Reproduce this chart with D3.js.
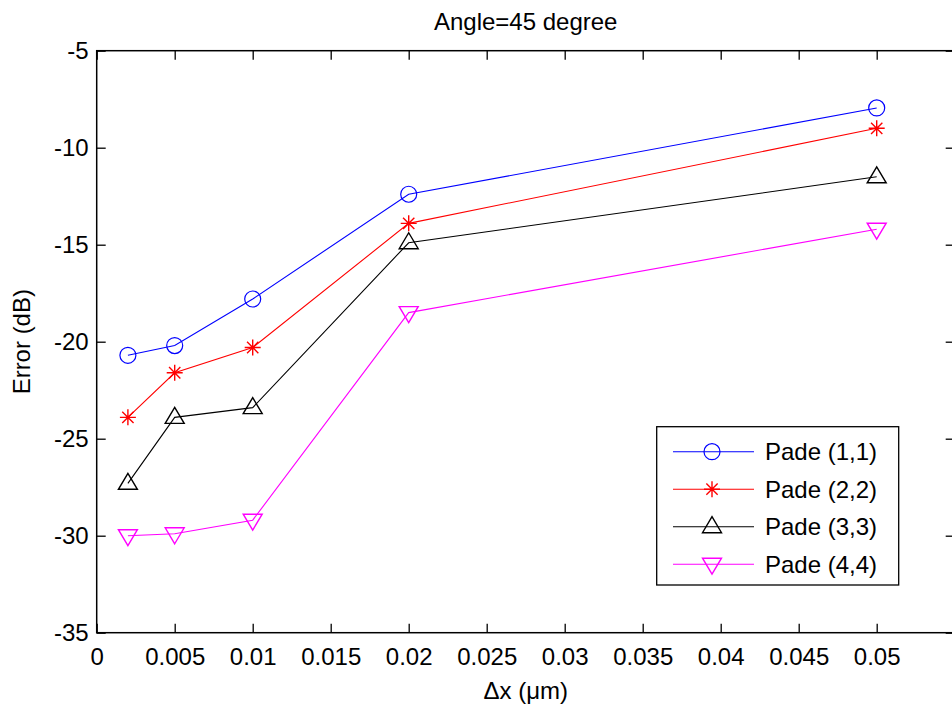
<!DOCTYPE html>
<html><head><meta charset="utf-8">
<script src="https://cdn.jsdelivr.net/npm/d3@7"></script>
<style>
body{margin:0;background:#fff;}
svg text{font-family:"Liberation Sans",Arial,sans-serif;fill:#000;}
</style></head>
<body><svg id="c" width="952" height="706"></svg>
<script>
const xValues = [0.002, 0.005, 0.01, 0.02, 0.05];
const pade11 = [-20.7, -20.2, -17.8, -12.4, -7.95];
const pade22 = [-23.9, -21.6, -20.3, -13.9, -9.0];
const pade33 = [-27.3, -23.9, -23.4, -14.9, -11.5];
const pade44 = [-30.0, -29.9, -29.2, -18.5, -14.2];
const seriesNames = ["Pade (1,1)", "Pade (2,2)", "Pade (3,3)", "Pade (4,4)"];
const xTicks = [0, 0.005, 0.01, 0.015, 0.02, 0.025, 0.03, 0.035, 0.04, 0.045, 0.05, 0.055];
const xTickLabels = ["0", "0.005", "0.01", "0.015", "0.02", "0.025", "0.03", "0.035", "0.04", "0.045", "0.05", ""];
const yTicks = [-35, -30, -25, -20, -15, -10, -5];
const yTickLabels = ["-35", "-30", "-25", "-20", "-15", "-10", "-5"];

const series = [
  {name: seriesNames[0], values: pade11, color: "#0000ff", marker: "circle"},
  {name: seriesNames[1], values: pade22, color: "#ff0000", marker: "star"},
  {name: seriesNames[2], values: pade33, color: "#000000", marker: "tri"},
  {name: seriesNames[3], values: pade44, color: "#ff00ff", marker: "tridown"}
];

const L = 96.7, R = 954.7, T = 50.7, B = 632.7;
const FS = 24;
const svg = d3.select("#c");
const x = d3.scaleLinear().domain([0, 0.055]).range([L, R]);
const y = d3.scaleLinear().domain([-35, -5]).range([B, T]);

// title
svg.append("text").attr("x", (L + R) / 2).attr("y", 29.5).attr("text-anchor", "middle")
  .attr("font-size", FS).text("Angle=45 degree");

// axes with inward ticks
const tk = 9;
const xb = svg.append("g").attr("transform", `translate(0,${B})`)
  .call(d3.axisBottom(x).tickValues(xTicks).tickSize(-tk).tickPadding(15)
    .tickFormat((d, i) => xTickLabels[i]));
const xt = svg.append("g").attr("transform", `translate(0,${T})`)
  .call(d3.axisTop(x).tickValues(xTicks).tickSize(-tk).tickFormat(""));
const yl = svg.append("g").attr("transform", `translate(${L},0)`)
  .call(d3.axisLeft(y).tickValues(yTicks).tickSize(-tk).tickPadding(8)
    .tickFormat((d, i) => yTickLabels[i]));
const yr = svg.append("g").attr("transform", `translate(${R},0)`)
  .call(d3.axisRight(y).tickValues(yTicks).tickSize(-tk).tickFormat(""));
[xb, xt, yl, yr].forEach(g => {
  g.select(".domain").remove();
  g.selectAll("line").attr("stroke", "#000").attr("stroke-width", 1.3);
  g.selectAll("text").attr("font-size", FS).attr("font-family", "Liberation Sans, Arial, sans-serif").attr("fill", "#000");
});
svg.append("rect").attr("x", L).attr("y", T).attr("width", R - L).attr("height", B - T)
  .attr("fill", "none").attr("stroke", "#000").attr("stroke-width", 1.5);

// axis labels
svg.append("text").attr("x", (L + R) / 2).attr("y", 699).attr("text-anchor", "middle")
  .attr("font-size", FS).text("\u0394x (\u03bcm)");
svg.append("text").attr("transform", `translate(30,${(T + B) / 2}) rotate(-90)`)
  .attr("text-anchor", "middle").attr("font-size", FS).text("Error (dB)");

function drawMarker(g, type, cx, cy, color) {
  if (type === "circle") {
    g.append("circle").attr("cx", cx).attr("cy", cy).attr("r", 8)
      .attr("fill", "none").attr("stroke", color).attr("stroke-width", 1.2);
  } else if (type === "tri") {
    g.append("path").attr("d", `M${cx},${cy - 10}L${cx + 9.5},${cy + 6}L${cx - 9.5},${cy + 6}Z`)
      .attr("fill", "none").attr("stroke", color).attr("stroke-width", 1.4);
  } else if (type === "tridown") {
    g.append("path").attr("d", `M${cx},${cy + 10}L${cx + 9.5},${cy - 6}L${cx - 9.5},${cy - 6}Z`)
      .attr("fill", "none").attr("stroke", color).attr("stroke-width", 1.4);
  } else if (type === "star") {
    const r = 8, d = r * 0.707;
    g.append("path").attr("d",
      `M${cx - r},${cy}L${cx + r},${cy}M${cx},${cy - r}L${cx},${cy + r}` +
      `M${cx - d},${cy - d}L${cx + d},${cy + d}M${cx - d},${cy + d}L${cx + d},${cy - d}`)
      .attr("fill", "none").attr("stroke", color).attr("stroke-width", 1.4);
  }
}

const line = d3.line().x((d, i) => x(xValues[i])).y(d => y(d));
series.forEach(s => {
  const g = svg.append("g");
  g.append("path").attr("d", line(s.values)).attr("fill", "none")
    .attr("stroke", s.color).attr("stroke-width", 1.1);
  s.values.forEach((v, i) => drawMarker(g, s.marker, x(xValues[i]), y(v), s.color));
});

// legend
const lg = svg.append("g");
lg.append("rect").attr("x", 656.7).attr("y", 426.7).attr("width", 242).attr("height", 158.3)
  .attr("fill", "#fff").attr("stroke", "#000").attr("stroke-width", 1.3);
series.forEach((s, i) => {
  const cy = 451.7 + i * 37.5;
  lg.append("line").attr("x1", 673).attr("x2", 754).attr("y1", cy).attr("y2", cy)
    .attr("stroke", s.color).attr("stroke-width", 1.1);
  drawMarker(lg, s.marker, 712, cy, s.color);
  lg.append("text").attr("x", 765).attr("y", cy + 8.5).attr("font-size", FS).text(s.name);
});
</script></body></html>
